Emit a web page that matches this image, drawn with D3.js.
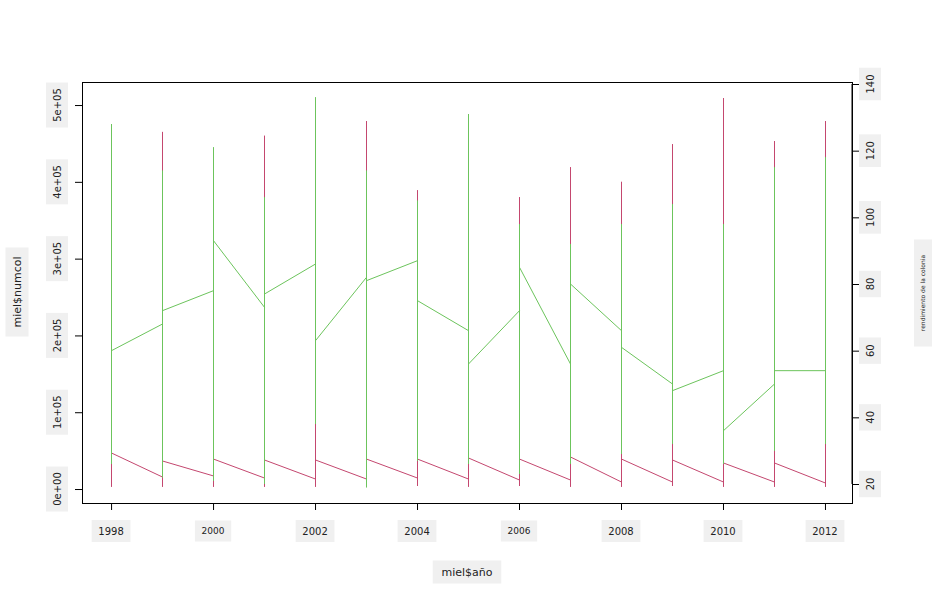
<!DOCTYPE html>
<html>
<head>
<meta charset="utf-8">
<script src="https://cdn.jsdelivr.net/npm/d3@7"></script>
<style>
  body { margin: 0; background: #fff; }
  text { font-family: 'DejaVu Sans', sans-serif; fill: #222; }
</style>
</head>
<body>
<div id="chart"></div>
<script>
const years = d3.range(1998, 2013)
// numcol per year: first, max, min, last value of the year's run
const redFirst = [47000, 15600, 17000, 14300, 13000, 13000, 14300, 13000, 11700, 11700, 9100, 9100, 9100, 9100, 7800]
const redMax = [475000, 465000, 444000, 460000, 509000, 479000, 389000, 488000, 380000, 419000, 400000, 449000, 509000, 453000, 479000]
const redMin = [3000, 3000, 3000, 3000, 3000, 3000, 4000, 3000, 4000, 3000, 3000, 4000, 3000, 3000, 3000]
const redLast = [46900, 36500, 39000, 37800, 37800, 39000, 39000, 40400, 39000, 41700, 39000, 37800, 33900, 33900, 7800]
// rendimiento de la colonia
const greenFirst = [60, 68, 78, 73, 86, 82, 87, 66, 72, 56, 66, 50, 54, 50, 54]
const greenMax = [128, 114, 121, 106, 136, 114, 105, 131, 98, 92, 98, 104, 98, 115, 118]
const greenMin = [26, 22, 21, 20, 38, 19, 27, 26, 23, 26, 29, 32, 26, 30, 32]
const greenLast = [60, 72, 93, 77, 63, 81, 75, 56, 85, 80, 61, 48, 36, 54, 54]

const leftTicks = [0, 100000, 200000, 300000, 400000, 500000]
const leftLabels = ['0e+00', '1e+05', '2e+05', '3e+05', '4e+05', '5e+05']
const rightTicks = [20, 40, 60, 80, 100, 120, 140]
const xTicks = [1998, 2000, 2002, 2004, 2006, 2008, 2010, 2012]

const W = 937, H = 605
const box = { left: 82, right: 852, top: 82, bottom: 503 }

const svg = d3.select('#chart').append('svg').attr('width', W).attr('height', H)

const x = d3.scaleLinear().domain([1997.43, 2012.53]).range([box.left, box.right])
const yL = d3.scaleLinear().domain([-18200, 530000]).range([box.bottom, box.top])
const yR = d3.scaleLinear().domain([14.3, 140.6]).range([box.bottom, box.top])

function seq(first, max, min, last) {
  const pts = []
  years.forEach((yr, i) => {
    pts.push([yr, first[i]], [yr, max[i]], [yr, min[i]], [yr, last[i]])
  })
  return pts
}

// snap vertical segments to the pixel centre so they stay crisp
const px = v => Math.round(x(v)) + 0.5

svg.append('path')
  .attr('d', d3.line().x(d => px(d[0])).y(d => yL(d[1]))(seq(redFirst, redMax, redMin, redLast)))
  .attr('fill', 'none').attr('stroke', '#c4476f').attr('stroke-width', 1)

svg.append('path')
  .attr('d', d3.line().x(d => px(d[0])).y(d => yR(d[1]))(seq(greenFirst, greenMax, greenMin, greenLast)))
  .attr('fill', 'none').attr('stroke', '#6cc45c').attr('stroke-width', 1)

svg.append('rect')
  .attr('x', box.left + 0.5).attr('y', box.top + 0.5)
  .attr('width', box.right - box.left).attr('height', box.bottom - box.top)
  .attr('fill', 'none').attr('stroke', '#000')

function labelBox(tx, ty, txt, size, rotate) {
  const g = svg.append('g').attr('transform', `translate(${tx},${ty}) rotate(${rotate})`)
  const w = txt.length * size * 0.62 + 14
  const h = size + 12
  g.append('rect').attr('x', -w / 2).attr('y', -h / 2).attr('width', w).attr('height', h).attr('fill', '#f0f0f0')
  g.append('text').text(txt).attr('font-size', size).attr('text-anchor', 'middle').attr('dy', '0.35em')
}

// bottom axis
const xa = svg.append('g').attr('transform', `translate(0,${box.bottom})`)
  .call(d3.axisBottom(x).tickValues(xTicks).tickSize(7).tickFormat(''))
xa.select('.domain').remove()
xTicks.forEach(t => labelBox(x(t), 531, String(t), (t === 2000 || t === 2006) ? 9 : 10, 0))

// left axis
const la = svg.append('g').attr('transform', `translate(${box.left},0)`)
  .call(d3.axisLeft(yL).tickValues(leftTicks).tickSize(7).tickFormat(''))
la.select('.domain').remove()
leftTicks.forEach((t, i) => labelBox(57, yL(t), leftLabels[i], 10, -90))

// right axis
const ra = svg.append('g').attr('transform', `translate(${box.right},0)`)
  .call(d3.axisRight(yR).tickValues(rightTicks).tickSize(7).tickFormat(''))
ra.select('.domain').attr('d', `M0,${yR(20)}H0V${yR(140)}`)
rightTicks.forEach(t => labelBox(870, yR(t), String(t), 10, -90))

labelBox(17, 292, 'miel$numcol', 11, -90)
labelBox(467, 572, 'miel$año', 11, 0)
labelBox(923, 293, 'rendimiento de la colonia', 6, -90)
</script>
</body>
</html>
